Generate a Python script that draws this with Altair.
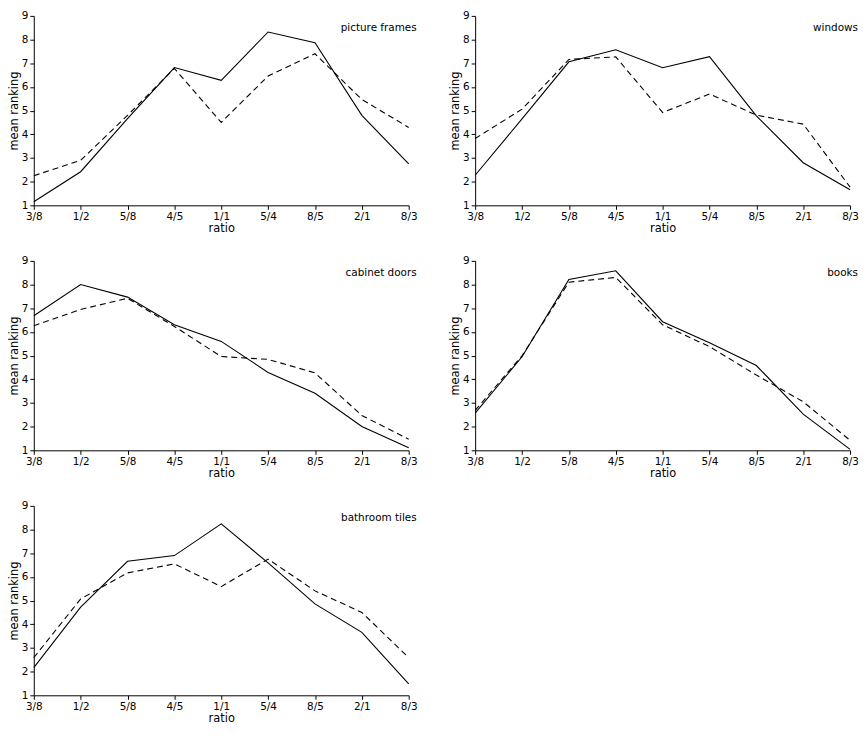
import altair as alt
import pandas as pd

ratios = ["3/8", "1/2", "5/8", "4/5", "1/1", "5/4", "8/5", "2/1", "8/3"]

picture_solid = [1.15, 2.42, 4.66, 6.82, 6.28, 8.32, 7.87, 4.80, 2.75]
picture_dashed = [2.25, 2.90, 4.80, 6.78, 4.50, 6.46, 7.40, 5.47, 4.29]

windows_solid = [2.27, 4.65, 7.06, 7.57, 6.81, 7.28, 4.78, 2.80, 1.66]
windows_dashed = [3.82, 5.06, 7.16, 7.27, 4.92, 5.70, 4.81, 4.43, 1.77]

cabinet_solid = [6.68, 8.00, 7.47, 6.30, 5.60, 4.29, 3.41, 2.01, 1.11]
cabinet_dashed = [6.26, 6.95, 7.42, 6.23, 4.96, 4.84, 4.27, 2.47, 1.47]

books_solid = [2.57, 4.95, 8.21, 8.58, 6.43, 5.54, 4.58, 2.53, 1.04]
books_dashed = [2.69, 4.99, 8.10, 8.30, 6.30, 5.38, 4.18, 3.05, 1.42]

tiles_solid = [2.17, 4.72, 6.66, 6.90, 8.24, 6.59, 4.86, 3.66, 1.48]
tiles_dashed = [2.59, 5.07, 6.17, 6.55, 5.59, 6.75, 5.41, 4.50, 2.59]

panel_names = ["picture frames", "windows", "cabinet doors", "books", "bathroom tiles"]

W = 378
H = 191
FONT = "DejaVu Sans"


def panel(name, solid, dashed):
    df_s = pd.DataFrame({"ratio": ratios, "value": solid})
    df_d = pd.DataFrame({"ratio": ratios, "value": dashed})
    x = alt.X(
        "ratio:N",
        sort=ratios,
        scale=alt.Scale(type="point", padding=0),
        axis=alt.Axis(title="ratio", labelAngle=0, labelPadding=2, titlePadding=1),
    )
    y = alt.Y(
        "value:Q",
        scale=alt.Scale(domain=[1, 9], nice=False, zero=False),
        axis=alt.Axis(title="mean ranking", values=list(range(1, 10)), labelPadding=2, titlePadding=2),
    )
    line_s = alt.Chart(df_s).mark_line(color="black", strokeWidth=1.1).encode(x=x, y=y)
    line_d = alt.Chart(df_d).mark_line(color="black", strokeWidth=1.1, strokeDash=[6, 4]).encode(x=x, y=y)
    label = alt.Chart(pd.DataFrame({"label": [name]})).mark_text(
        align="right", baseline="middle", fontSize=10.5, font=FONT, color="black"
    ).encode(x=alt.value(W + 8), y=alt.value(12), text="label:N")
    return alt.layer(line_s, line_d, label).properties(width=W, height=H)


p1 = panel(panel_names[0], picture_solid, picture_dashed)
p2 = panel(panel_names[1], windows_solid, windows_dashed)
p3 = panel(panel_names[2], cabinet_solid, cabinet_dashed)
p4 = panel(panel_names[3], books_solid, books_dashed)
p5 = panel(panel_names[4], tiles_solid, tiles_dashed)

chart = alt.vconcat(
    alt.hconcat(p1, p2, spacing=32),
    alt.hconcat(p3, p4, spacing=32),
    p5,
    spacing=22,
).properties(padding=0).configure_view(stroke=None).configure_axis(
    grid=False,
    domainColor="black",
    tickColor="black",
    labelColor="black",
    titleColor="black",
    labelFont=FONT,
    titleFont=FONT,
    labelFontSize=10.5,
    titleFontSize=11.5,
    titleFontWeight="normal",
    tickSize=4,
    domainWidth=1,
    tickWidth=1,
)

chart.save("out.html", embed_options={"renderer": "svg", "actions": False})
